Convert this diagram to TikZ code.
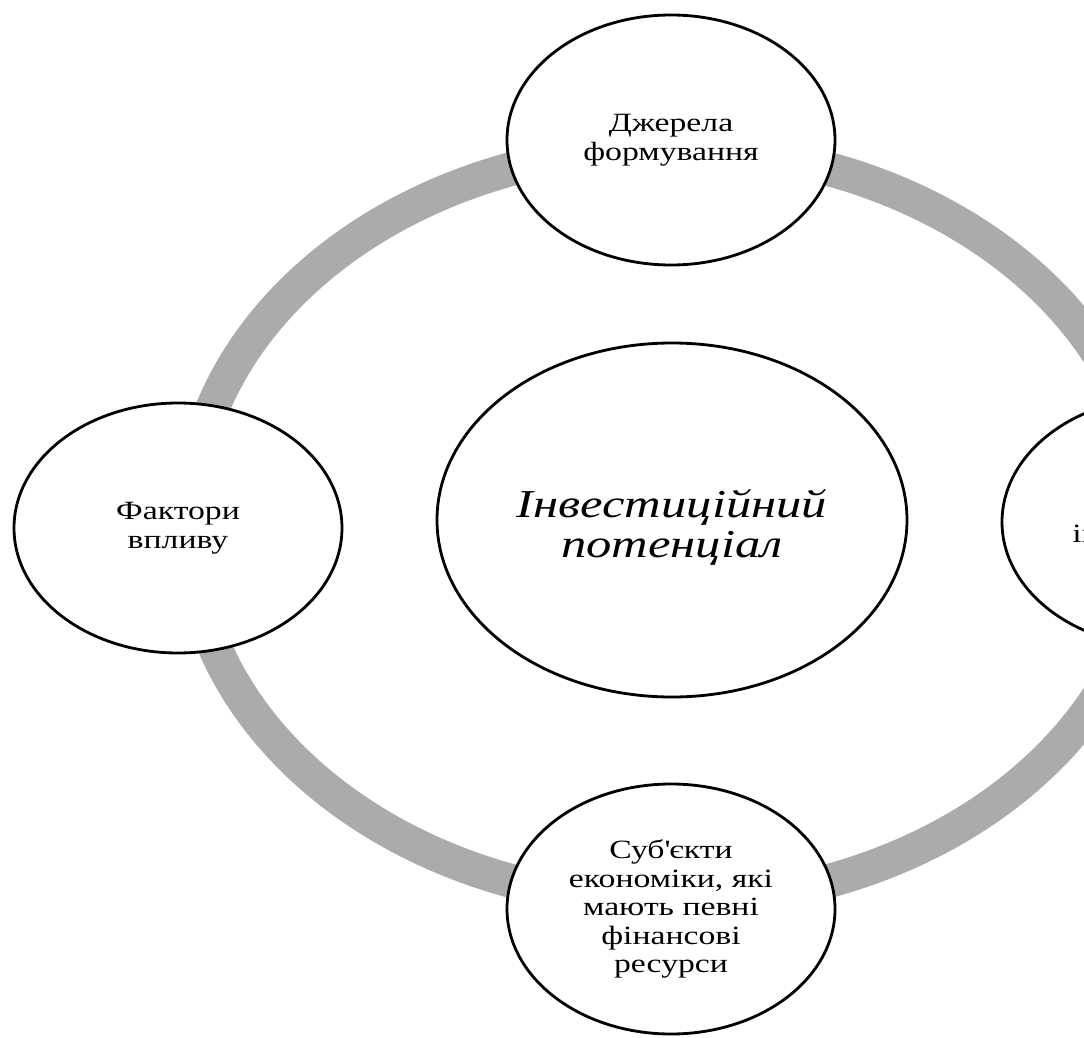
\documentclass[tikz,border=0pt]{standalone}
\usepackage{fontspec}
\setmainfont{Liberation Serif}[FakeStretch=1.28]
\usetikzlibrary{shapes.geometric}
\usetikzlibrary{positioning}
\definecolor{ringgray}{HTML}{ABABAB}
\tikzset{
topic/.style={ % Sets the properties for the outer ellipses
ellipse, draw, line width=1.6pt, fill=white,
minimum width=6.56cm, minimum height=5cm, inner sep=0pt,
align=center, font=\fontsize{15}{16.2}\selectfont},
core/.style={ % The central ellipse
topic, minimum width=9.4cm, minimum height=7.08cm,
text height=48pt, text depth=4.8pt,
font=\fontsize{22.5}{23.3}\selectfont\itshape},
ring/.style={ % Thick grey loop behind the ellipses
draw=ringgray, line width=0.68cm}}

\begin{document}
\begin{tikzpicture}
	\useasboundingbox (0,0) rectangle (21.68,20.74);
	\draw[ring] (13.4,10.24) ellipse [x radius=9.62, y radius=7.54];
	\node[core] (pot) at (13.44,10.34) {Інвестиційний\\потенціал};
	\node[topic] (src) at (13.42,17.94) {Джерела\\формування};
	\node[topic] (fac) at (3.56,10.18) {Фактори\\впливу};
	\node[topic] (obj) at (23.32,10.30) {Об\textquotesingle єкти\\інвестування};
	\node[topic] (sub) at (13.42,2.56) {Суб\textquotesingle єкти\\економіки, які\\мають певні\\фінансові\\ресурси};
\end{tikzpicture}
\end{document}
